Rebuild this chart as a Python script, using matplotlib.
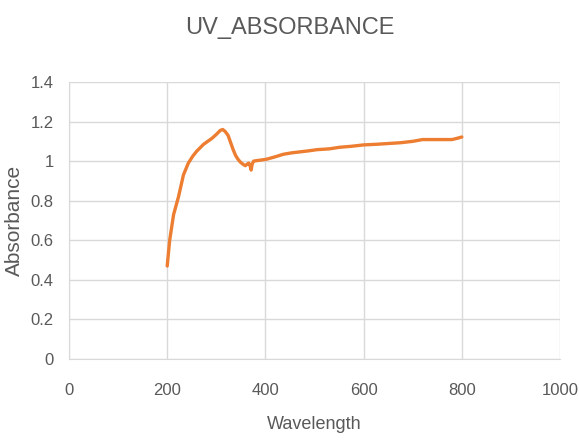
import matplotlib
matplotlib.use("Agg")
import matplotlib.pyplot as plt

# values
wavelength = [200, 205, 213, 223, 233, 243, 252, 260, 274, 291, 300, 308, 313, 318,
              324, 329, 334, 339, 344, 349, 354, 359, 363, 366, 369, 371, 373, 376,
              383, 390, 403, 420, 437, 454, 471, 488, 505, 530, 551, 575, 600, 625,
              650, 675, 700, 720, 750, 780, 790, 800]
absorbance = [0.47, 0.60, 0.73, 0.82, 0.93, 0.99, 1.025, 1.05, 1.085, 1.115, 1.135, 1.155, 1.16, 1.15,
              1.13, 1.095, 1.06, 1.03, 1.01, 0.995, 0.985, 0.977, 0.985, 0.99, 0.975, 0.955, 0.985, 1.0,
              1.003, 1.005, 1.01, 1.022, 1.035, 1.042, 1.047, 1.052, 1.058, 1.062, 1.07, 1.075, 1.082, 1.085,
              1.089, 1.093, 1.10, 1.109, 1.109, 1.109, 1.115, 1.122]

xticks = [0, 200, 400, 600, 800, 1000]
yticks = [0, 0.2, 0.4, 0.6, 0.8, 1, 1.2, 1.4]
ytick_labels = ['0', '0.2', '0.4', '0.6', '0.8', '1', '1.2', '1.4']

txt = '#595959'
plt.rcParams['font.family'] = ['Liberation Sans Narrow', 'Liberation Sans', 'DejaVu Sans']

fig = plt.figure(figsize=(5.79, 4.42), dpi=100)
ax = fig.add_axes([0.1192, 0.1878, 0.848, 0.6267])

ax.plot(wavelength, absorbance, color='#ED7D31', linewidth=2.4, solid_capstyle='round')

ax.set_xlim(0, 1000)
ax.set_ylim(0, 1.4)
ax.set_xticks(xticks)
ax.set_yticks(yticks)
ax.set_yticklabels(ytick_labels)
ax.grid(True, color='#D9D9D9', linewidth=1)
ax.set_axisbelow(True)
for s in ['top', 'right']:
    ax.spines[s].set_visible(False)
ax.spines['left'].set_color('#D9D9D9')
ax.spines['bottom'].set_color('#D9D9D9')
ax.tick_params(length=0, labelsize=12, colors=txt)
ax.tick_params(axis='x', pad=17)
ax.tick_params(axis='y', pad=11)

ax.set_xlabel('Wavelength', fontsize=13, color=txt, labelpad=13)
ax.set_ylabel('Absorbance', fontsize=15, color=txt, labelpad=5)
fig.text(0.5, 0.937, 'UV_ABSORBANCE', fontsize=17, color=txt, ha='center', va='center')

fig.savefig('out.png', dpi=100)
